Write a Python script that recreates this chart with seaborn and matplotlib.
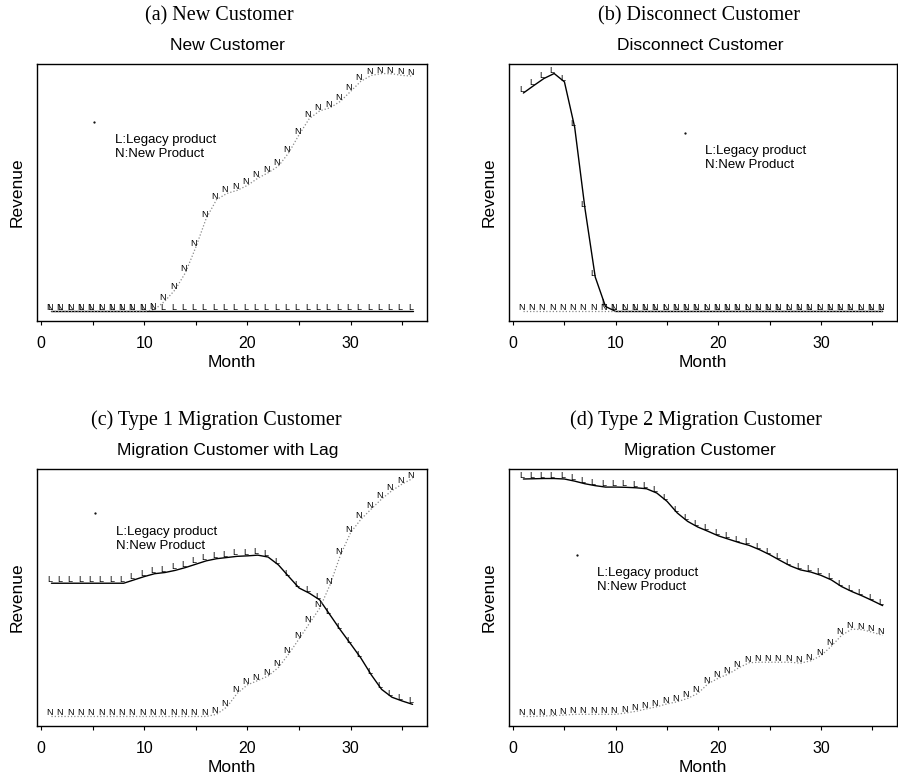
import matplotlib
matplotlib.use("Agg")
import matplotlib.pyplot as plt
from matplotlib import transforms as mtrans
import seaborn as sns

# ---------------- data ----------------
months = [1, 2, 3, 4, 5, 6, 7, 8, 9, 10, 11, 12, 13, 14, 15, 16, 17, 18,
          19, 20, 21, 22, 23, 24, 25, 26, 27, 28, 29, 30, 31, 32, 33, 34, 35, 36]

a_legacy = [0, 0, 0, 0, 0, 0, 0, 0, 0, 0, 0, 0, 0, 0, 0, 0, 0, 0,
            0, 0, 0, 0, 0, 0, 0, 0, 0, 0, 0, 0, 0, 0, 0, 0, 0, 0]
a_new = [0, 0, 0, 0, 0, 0, 0, 0, 0, 0, 0.8, 4.4, 9.2, 16.4, 27.1, 39.1, 47.0, 49.6,
         50.9, 53.0, 56.0, 58.3, 61.1, 66.7, 74.3, 81.1, 84.3, 85.6, 88.3, 92.5, 96.8, 99.2,
         100, 99.9, 99.2, 98.9]

b_legacy = [91.8, 94.9, 97.9, 100, 96.5, 77.4, 43.3, 14.5, 2.1, 0, 0, 0, 0, 0, 0, 0, 0, 0,
            0, 0, 0, 0, 0, 0, 0, 0, 0, 0, 0, 0, 0, 0, 0, 0, 0, 0]
b_new = [0, 0, 0, 0, 0, 0, 0, 0, 0, 0, 0, 0, 0, 0, 0, 0, 0, 0,
         0, 0, 0, 0, 0, 0, 0, 0, 0, 0, 0, 0, 0, 0, 0, 0, 0, 0]

c_legacy = [56.0, 56.0, 56.0, 56.0, 56.0, 56.0, 56.0, 56.0, 57.4, 58.8, 60.0, 60.5,
            61.4, 62.6, 64.0, 65.4, 66.3, 66.8, 67.3, 67.5, 67.8, 67.0, 63.7, 58.8,
            54.0, 51.8, 49.0, 42.7, 36.4, 30.5, 24.5, 17.5, 11.4, 8.1, 6.5, 5.1]
c_new = [0, 0, 0, 0, 0, 0, 0, 0, 0, 0, 0, 0, 0, 0, 0, 0, 0.9, 4.0,
         9.7, 13.3, 15.1, 17.0, 20.6, 26.3, 32.6, 39.1, 45.5, 55.3, 67.7, 77.3, 82.9, 87.2,
         91.4, 94.9, 97.7, 100]

d_legacy = [99.8, 99.9, 100, 100, 99.8, 98.9, 97.8, 97.0, 96.4, 96.4, 96.3, 96.1,
            95.7, 93.9, 90.4, 85.5, 82.0, 79.6, 77.8, 75.9, 74.5, 73.1, 71.9, 70.1,
            68.0, 65.6, 63.3, 61.6, 60.7, 59.3, 57.4, 54.6, 52.5, 50.7, 48.7, 46.6]
d_new = [0, 0, 0.2, 0.35, 0.6, 0.9, 0.9, 0.9, 0.9, 0.9, 1.5, 2.2, 3.2, 4.1, 5.3, 6.2,
         7.6, 9.7, 13.8, 16.1, 17.9, 20.5, 22.6, 22.8, 22.8, 22.8, 22.8, 22.4, 23.4, 25.6,
         29.5, 34.1, 36.7, 36.5, 35.4, 34.1]

captions = ["(a) New Customer", "(b) Disconnect Customer",
            "(c) Type 1 Migration Customer", "(d) Type 2 Migration Customer"]
titles = ["New Customer", "Disconnect Customer",
          "Migration Customer with Lag", "Migration Customer"]
legend_lines = ["L:Legacy product", "N:New Product"]
xtick_major = [0, 10, 20, 30]
xtick_minor = [5, 15, 25, 35]

# ---------------- style ----------------
sns.set_theme(style="white")
plt.rcParams["font.family"] = ["Liberation Sans", "DejaVu Sans"]

W, H = 898, 779
fig = plt.figure(figsize=(W / 100, H / 100), dpi=100)
fig.patch.set_facecolor("white")

# axes boxes in pixels: left, top, right, bottom
boxes = [(37, 64, 427, 321), (509, 64, 897, 321),
         (37, 469, 427, 726), (509, 469, 897, 726)]
caption_pos = [(219, 16), (699, 16), (216, 420), (696, 420)]
title_x = [0.488, 0.493, 0.488, 0.493]
# legend: dot (x,y), text left x, baselines
legend_pos = [((94.3, 121.7), 115, (143.3, 156.7)),
              ((685, 133.3), 705, (154, 168.3)),
              ((95, 513.3), 116, (535, 549)),
              ((577.3, 555), 596.7, (576, 590))]

series = [(a_legacy, a_new), (b_legacy, b_new), (c_legacy, c_new), (d_legacy, d_new)]

for i, (box, (leg, new)) in enumerate(zip(boxes, series)):
    l, t, r, b = box
    ax = fig.add_axes([l / W, 1 - b / H, (r - l) / W, (b - t) / H])
    ax.set_facecolor("white")

    sns.lineplot(x=months, y=leg, ax=ax, color="black", lw=1.0, errorbar=None)
    sns.lineplot(x=months, y=new, ax=ax, color="#8a8a8a", lw=0.9,
                 linestyle=(0, (1, 1.6)), errorbar=None)

    tr = mtrans.offset_copy(ax.transData, fig=fig, x=-2, y=1, units="dots")
    for m, v in zip(months, leg):
        ax.text(m, v, "L", transform=tr, ha="center", va="baseline",
                fontsize=6.5, color="black")
    for m, v in zip(months, new):
        ax.text(m, v, "N", transform=tr, ha="center", va="baseline",
                fontsize=6.5, color="black")

    ax.margins(x=0.04, y=0.04)
    ax.set_xticks(xtick_major)
    ax.set_xticks(xtick_minor, minor=True)
    ax.set_yticks([])
    ax.tick_params(axis="x", which="both", direction="out", length=3.0, width=0.8,
                   bottom=True, color="black", pad=7.5, labelsize=11.5, labelcolor="black")
    for s in ax.spines.values():
        s.set_visible(True)
        s.set_color("black")
        s.set_linewidth(1.0)

    ax.set_xlabel("Month", fontsize=12.5, labelpad=3.5, color="black")
    ax.set_ylabel("Revenue", fontsize=12.5, labelpad=9, color="black")
    ax.set_title(titles[i], fontsize=12.5, pad=10, x=title_x[i], color="black")

    # legend annotation
    (dx, dy), tx, (bl1, bl2) = legend_pos[i]
    def fx(px):
        return (px - l) / (r - l)
    def fy(py):
        return (b - py) / (b - t)
    ax.plot([fx(dx)], [fy(dy)], marker="o", ms=0.6, color="black",
            transform=ax.transAxes, clip_on=False)
    ax.text(fx(tx), fy(bl1), legend_lines[0], transform=ax.transAxes,
            ha="left", va="baseline", fontsize=9.5, color="black")
    ax.text(fx(tx), fy(bl2), legend_lines[1], transform=ax.transAxes,
            ha="left", va="baseline", fontsize=9.5, color="black")

    cx, cy = caption_pos[i]
    fig.text(cx / W, 1 - cy / H, captions[i], ha="center", va="center",
             fontsize=14.5, family=["Liberation Serif", "DejaVu Serif"], color="black")

fig.savefig("out.png", dpi=100, facecolor="white")
